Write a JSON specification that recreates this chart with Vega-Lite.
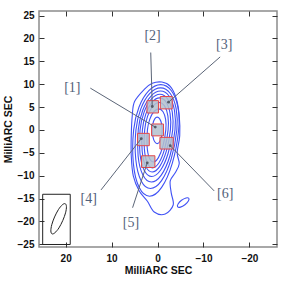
{
  "$schema": "https://vega.github.io/schema/vega-lite/v6.json",
  "width": 238,
  "height": 236,
  "autosize": {"type": "none"},
  "padding": {"left": 39, "top": 11, "right": 18, "bottom": 37},
  "background": "white",
  "config": {
    "view": {"stroke": "#8c8c8c", "strokeWidth": 1.5},
    "axis": {
      "domain": false,
      "grid": false,
      "tickColor": "#333333",
      "tickWidth": 1,
      "tickSize": -5,
      "labelFont": "Liberation Sans",
      "labelFontWeight": "bold",
      "labelFontSize": 10,
      "labelColor": "#111111",
      "titleFont": "Liberation Sans",
      "titleFontWeight": "bold",
      "titleFontSize": 10.5,
      "titleColor": "#111111"
    }
  },
  "datasets": {
    "contours": [
      {"c":"c1","i":0,"x":-0.96,"y":10.46},{"c":"c1","i":1,"x":-2.76,"y":9.52},{"c":"c1","i":2,"x":-4.07,"y":6.88},{"c":"c1","i":3,"x":-4.72,"y":3.14},{"c":"c1","i":4,"x":-4.83,"y":-1.25},{"c":"c1","i":5,"x":-4.28,"y":-5.0},{"c":"c1","i":6,"x":-4.72,"y":-7.41},{"c":"c1","i":7,"x":-3.85,"y":-9.38},{"c":"c1","i":8,"x":-2.76,"y":-11.14},{"c":"c1","i":9,"x":-2.98,"y":-13.78},{"c":"c1","i":10,"x":-3.41,"y":-16.42},{"c":"c1","i":11,"x":-1.67,"y":-18.4},{"c":"c1","i":12,"x":0.72,"y":-17.96},{"c":"c1","i":13,"x":2.24,"y":-15.54},{"c":"c1","i":14,"x":3.98,"y":-13.34},{"c":"c1","i":15,"x":5.28,"y":-10.04},{"c":"c1","i":16,"x":5.72,"y":-5.65},{"c":"c1","i":17,"x":5.72,"y":-1.25},{"c":"c1","i":18,"x":5.5,"y":3.14},{"c":"c1","i":19,"x":5.0,"y":6.2},{"c":"c1","i":20,"x":2.89,"y":8.86},{"c":"c1","i":21,"x":1.15,"y":10.18},
      {"c":"c2","i":0,"x":-4.6,"y":0},{"c":"c2","i":1,"x":-4.44,"y":4.95},{"c":"c2","i":2,"x":-3.01,"y":8.57},{"c":"c2","i":3,"x":-0.69,"y":9.9},{"c":"c2","i":4,"x":1.89,"y":8.57},{"c":"c2","i":5,"x":4.05,"y":4.95},{"c":"c2","i":6,"x":5.2,"y":0},{"c":"c2","i":7,"x":5.27,"y":-7.25},{"c":"c2","i":8,"x":4.01,"y":-12.56},{"c":"c2","i":9,"x":1.75,"y":-14.5},{"c":"c2","i":10,"x":-0.89,"y":-12.56},{"c":"c2","i":11,"x":-3.22,"y":-7.25},
      {"c":"c3","i":0,"x":-4.2,"y":0},{"c":"c3","i":1,"x":-4.06,"y":4.6},{"c":"c3","i":2,"x":-2.77,"y":7.97},{"c":"c3","i":3,"x":-0.67,"y":9.2},{"c":"c3","i":4,"x":1.68,"y":7.97},{"c":"c3","i":5,"x":3.64,"y":4.6},{"c":"c3","i":6,"x":4.7,"y":0},{"c":"c3","i":7,"x":4.74,"y":-6.4},{"c":"c3","i":8,"x":3.58,"y":-11.09},{"c":"c3","i":9,"x":1.53,"y":-12.8},{"c":"c3","i":10,"x":-0.87,"y":-11.09},{"c":"c3","i":11,"x":-2.96,"y":-6.4},
      {"c":"c4","i":0,"x":-3.8,"y":0},{"c":"c4","i":1,"x":-3.69,"y":4.25},{"c":"c4","i":2,"x":-2.54,"y":7.36},{"c":"c4","i":3,"x":-0.65,"y":8.5},{"c":"c4","i":4,"x":1.46,"y":7.36},{"c":"c4","i":5,"x":3.24,"y":4.25},{"c":"c4","i":6,"x":4.2,"y":0},{"c":"c4","i":7,"x":4.23,"y":-5.7},{"c":"c4","i":8,"x":3.19,"y":-9.87},{"c":"c4","i":9,"x":1.34,"y":-11.4},{"c":"c4","i":10,"x":-0.81,"y":-9.87},{"c":"c4","i":11,"x":-2.69,"y":-5.7},
      {"c":"c5","i":0,"x":-3.3,"y":0},{"c":"c5","i":1,"x":-3.21,"y":3.9},{"c":"c5","i":2,"x":-2.2,"y":6.75},{"c":"c5","i":3,"x":-0.53,"y":7.8},{"c":"c5","i":4,"x":1.35,"y":6.75},{"c":"c5","i":5,"x":2.93,"y":3.9},{"c":"c5","i":6,"x":3.8,"y":0},{"c":"c5","i":7,"x":3.83,"y":-5.1},{"c":"c5","i":8,"x":2.91,"y":-8.83},{"c":"c5","i":9,"x":1.27,"y":-10.2},{"c":"c5","i":10,"x":-0.64,"y":-8.83},{"c":"c5","i":11,"x":-2.31,"y":-5.1},
      {"c":"c6","i":0,"x":-2.8,"y":0},{"c":"c6","i":1,"x":-2.74,"y":3.5},{"c":"c6","i":2,"x":-1.88,"y":6.06},{"c":"c6","i":3,"x":-0.45,"y":7.0},{"c":"c6","i":4,"x":1.17,"y":6.06},{"c":"c6","i":5,"x":2.54,"y":3.5},{"c":"c6","i":6,"x":3.3,"y":0},{"c":"c6","i":7,"x":3.35,"y":-4.6},{"c":"c6","i":8,"x":2.57,"y":-7.97},{"c":"c6","i":9,"x":1.17,"y":-9.2},{"c":"c6","i":10,"x":-0.48,"y":-7.97},{"c":"c6","i":11,"x":-1.93,"y":-4.6},
      {"c":"c7","i":0,"x":-2.3,"y":0},{"c":"c7","i":1,"x":-2.26,"y":3.0},{"c":"c7","i":2,"x":-1.55,"y":5.2},{"c":"c7","i":3,"x":-0.35,"y":6.0},{"c":"c7","i":4,"x":1.0,"y":5.2},{"c":"c7","i":5,"x":2.16,"y":3.0},{"c":"c7","i":6,"x":2.8,"y":0},{"c":"c7","i":7,"x":2.87,"y":-4.15},{"c":"c7","i":8,"x":2.24,"y":-7.19},{"c":"c7","i":9,"x":1.08,"y":-8.3},{"c":"c7","i":10,"x":-0.31,"y":-7.19},{"c":"c7","i":11,"x":-1.54,"y":-4.15},
      {"c":"c8","i":0,"x":-1.8,"y":0},{"c":"c8","i":1,"x":-1.76,"y":2.3},{"c":"c8","i":2,"x":-1.2,"y":3.98},{"c":"c8","i":3,"x":-0.26,"y":4.6},{"c":"c8","i":4,"x":0.8,"y":3.98},{"c":"c8","i":5,"x":1.7,"y":2.3},{"c":"c8","i":6,"x":2.2,"y":0},{"c":"c8","i":7,"x":2.28,"y":-3.5},{"c":"c8","i":8,"x":1.81,"y":-6.06},{"c":"c8","i":9,"x":0.9,"y":-7.0},{"c":"c8","i":10,"x":-0.19,"y":-6.06},{"c":"c8","i":11,"x":-1.18,"y":-3.5},
      {"c":"c9","i":0,"x":-1.01,"y":0},{"c":"c9","i":1,"x":-0.87,"y":1.4},{"c":"c9","i":2,"x":-0.47,"y":2.42},{"c":"c9","i":3,"x":0.07,"y":2.8},{"c":"c9","i":4,"x":0.61,"y":2.42},{"c":"c9","i":5,"x":1.0,"y":1.4},{"c":"c9","i":6,"x":1.15,"y":0},{"c":"c9","i":7,"x":1.0,"y":-1.5},{"c":"c9","i":8,"x":0.61,"y":-2.6},{"c":"c9","i":9,"x":0.07,"y":-3.0},{"c":"c9","i":10,"x":-0.47,"y":-2.6},{"c":"c9","i":11,"x":-0.87,"y":-1.5},
      {"c":"s1","i":0,"x":-6.8,"y":-14.95},{"c":"s1","i":1,"x":-6.71,"y":-15.56},{"c":"s1","i":2,"x":-5.96,"y":-16.35},{"c":"s1","i":3,"x":-4.98,"y":-16.88},{"c":"s1","i":4,"x":-4.37,"y":-16.79},{"c":"s1","i":5,"x":-4.47,"y":-16.18},{"c":"s1","i":6,"x":-5.22,"y":-15.38},{"c":"s1","i":7,"x":-6.2,"y":-14.87}
    ],
    "squares": [
      {"id":"A","x1":2.3,"x2":-0.2,"y1":3.7,"y2":6.4},
      {"id":"B","x1":-0.6,"x2":-3.2,"y1":4.6,"y2":7.3},
      {"id":"C","x1":1.3,"x2":-1.3,"y1":-1.3,"y2":1.3},
      {"id":"D","x1":4.35,"x2":1.8,"y1":-3.45,"y2":-0.75},
      {"id":"E","x1":-0.52,"x2":-3.41,"y1":-4.18,"y2":-1.63},
      {"id":"F","x1":3.48,"x2":0.57,"y1":-8.22,"y2":-5.65}
    ],
    "leaders": [
      {"n":"1","x1":14.63,"y1":9.14,"x2":0.5,"y2":0.62},
      {"n":"2","x1":1.48,"y1":16.92,"x2":1.15,"y2":5.12},
      {"n":"3","x1":-13.63,"y1":15.96,"x2":-2.39,"y2":6.07},
      {"n":"4","x1":12.3,"y1":-13.12,"x2":3.54,"y2":-1.91},
      {"n":"5","x1":5.43,"y1":-17.01,"x2":2.24,"y2":-7.19},
      {"n":"6","x1":-12.33,"y1":-13.34,"x2":-2.76,"y2":-3.45}
    ],
    "labels": [
      {"t":"[1]","x":18.54,"y":9.07},
      {"t":"[2]","x":1.09,"y":20.51},
      {"t":"[3]","x":-14.5,"y":18.53},
      {"t":"[4]","x":15.0,"y":-15.16},
      {"t":"[5]","x":5.78,"y":-20.31},
      {"t":"[6]","x":-14.72,"y":-14.07}
    ],
    "beambox": [
      {"x1":25.0,"x2":19.0,"y1":-25.05,"y2":-14.07}
    ],
    "beam": [
      {"i":0,"x":20.09,"y":-16.13},{"i":1,"x":19.83,"y":-16.77},{"i":2,"x":20.02,"y":-18.13},{"i":3,"x":20.63,"y":-19.82},{"i":4,"x":21.46,"y":-21.43},{"i":5,"x":22.33,"y":-22.48},{"i":6,"x":22.96,"y":-22.73},{"i":7,"x":23.22,"y":-22.09},{"i":8,"x":23.02,"y":-20.73},{"i":9,"x":22.41,"y":-19.03},{"i":10,"x":21.58,"y":-17.43},{"i":11,"x":20.72,"y":-16.37}
    ]
  },
  "resolve": {"axis": {"x": "independent", "y": "independent"}},
  "layer": [
    {
      "data": {"name": "contours"},
      "mark": {"type": "line", "interpolate": "cardinal-closed", "color": "#4052f5", "strokeWidth": 1.1},
      "encoding": {
        "x": {"field": "x", "type": "quantitative",
              "scale": {"domain": [-26, 25.8], "reverse": true, "nice": false, "zero": false},
              "axis": {"orient": "bottom", "values": [-20, -10, 0, 10, 20], "title": "MilliARC SEC", "labelPadding": 11, "titlePadding": 2}},
        "y": {"field": "y", "type": "quantitative",
              "scale": {"domain": [-25.6, 26], "nice": false, "zero": false},
              "axis": {"orient": "left", "values": [-25, -20, -15, -10, -5, 0, 5, 10, 15, 20, 25], "title": "MilliARC SEC", "labelPadding": 10, "titlePadding": 4}},
        "detail": {"field": "c"},
        "order": {"field": "i", "type": "quantitative"}
      }
    },
    {
      "data": {"name": "squares"},
      "mark": {"type": "rect", "fill": "#b3bfce", "fillOpacity": 0.85, "stroke": "#e3474a", "strokeWidth": 1},
      "encoding": {
        "x": {"field": "x1", "type": "quantitative", "axis": null},
        "x2": {"field": "x2"},
        "y": {"field": "y1", "type": "quantitative", "axis": null},
        "y2": {"field": "y2"}
      }
    },
    {
      "data": {"name": "leaders"},
      "mark": {"type": "rule", "color": "#5b6577", "strokeWidth": 1},
      "encoding": {
        "x": {"field": "x1", "type": "quantitative", "axis": null},
        "x2": {"field": "x2"},
        "y": {"field": "y1", "type": "quantitative", "axis": null},
        "y2": {"field": "y2"}
      }
    },
    {
      "data": {"name": "leaders"},
      "mark": {"type": "point", "filled": true, "color": "#555a66", "size": 8, "opacity": 1},
      "encoding": {
        "x": {"field": "x2", "type": "quantitative", "axis": null},
        "y": {"field": "y2", "type": "quantitative", "axis": null}
      }
    },
    {
      "data": {"name": "labels"},
      "mark": {"type": "text", "font": "Liberation Serif", "fontSize": 14, "color": "#52617a", "align": "center", "baseline": "middle"},
      "encoding": {
        "x": {"field": "x", "type": "quantitative", "axis": null},
        "y": {"field": "y", "type": "quantitative", "axis": null},
        "text": {"field": "t"}
      }
    },
    {
      "data": {"name": "beambox"},
      "mark": {"type": "rect", "fill": null, "fillOpacity": 0, "stroke": "#222222", "strokeWidth": 1},
      "encoding": {
        "x": {"field": "x1", "type": "quantitative",
              "axis": {"orient": "top", "values": [-20, -10, 0, 10, 20], "labels": false, "title": null}},
        "x2": {"field": "x2"},
        "y": {"field": "y1", "type": "quantitative",
              "axis": {"orient": "right", "values": [-25, -20, -15, -10, -5, 0, 5, 10, 15, 20, 25], "labels": false, "title": null}},
        "y2": {"field": "y2"}
      }
    },
    {
      "data": {"name": "beam"},
      "mark": {"type": "line", "interpolate": "cardinal-closed", "color": "#222222", "strokeWidth": 1},
      "encoding": {
        "x": {"field": "x", "type": "quantitative", "axis": null},
        "y": {"field": "y", "type": "quantitative", "axis": null},
        "order": {"field": "i", "type": "quantitative"}
      }
    }
  ]
}
